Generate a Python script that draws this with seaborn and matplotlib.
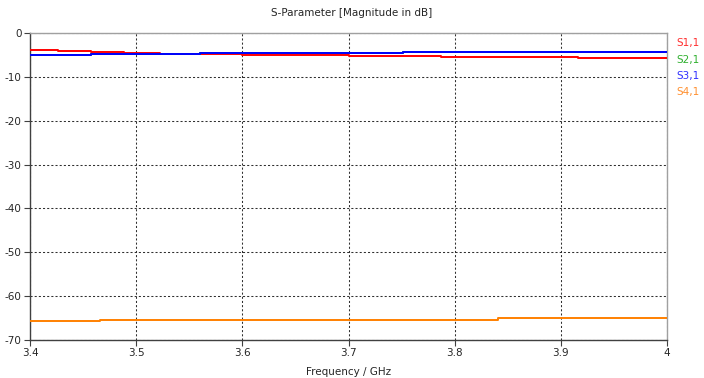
import matplotlib
matplotlib.use("Agg")
import matplotlib.pyplot as plt
import seaborn as sns
import pandas as pd

freq = [3.400, 3.405, 3.426, 3.457, 3.466, 3.489, 3.522, 3.560, 3.600, 3.650, 3.700, 3.751, 3.787, 3.824, 3.841, 3.916, 4.000]
s11 = [-3.9, -3.9, -4.1, -4.25, -4.25, -4.5, -4.7, -4.8, -4.95, -5.05, -5.15, -5.25, -5.5, -5.5, -5.5, -5.6, -5.6]
s21 = [-5.0, -5.0, -4.95, -4.9, -4.9, -4.85, -4.8, -4.65, -4.6, -4.5, -4.45, -4.4, -4.4, -4.25, -4.25, -4.25, -4.25]
s31 = [-5.0, -5.0, -5.0, -4.9, -4.9, -4.85, -4.75, -4.65, -4.6, -4.5, -4.45, -4.4, -4.4, -4.25, -4.25, -4.25, -4.25]
s41 = [-65.6, -65.7, -65.7, -65.7, -65.5, -65.5, -65.5, -65.5, -65.5, -65.5, -65.5, -65.35, -65.35, -65.35, -65.0, -65.0, -65.0]

names = ["S1,1", "S2,1", "S3,1", "S4,1"]
colors = ["#ff0000", "#00a000", "#0000ff", "#ff8000"]
label_colors = ["#ff3030", "#30b030", "#3030ff", "#ff9030"]
xticks = [3.4, 3.5, 3.6, 3.7, 3.8, 3.9, 4.0]
xticklabels = ["3.4", "3.5", "3.6", "3.7", "3.8", "3.9", "4"]
yticks = [0, -10, -20, -30, -40, -50, -60, -70]

df = pd.DataFrame({
    "freq": freq * 4,
    "val": s11 + s21 + s31 + s41,
    "trace": sum([[n] * len(freq) for n in names], []),
})

sns.set_style("white")
plt.rcParams["font.family"] = ["DejaVu Sans"]

fig = plt.figure(figsize=(7.04, 3.78), dpi=100)
ax = fig.add_axes([30 / 704, 38 / 378, 637 / 704, 307 / 378])

for n, c in zip(names, colors):
    sub = df[df["trace"] == n]
    sns.lineplot(data=sub, x="freq", y="val", color=c, linewidth=1.4,
                 drawstyle="steps-post", ax=ax, legend=False, zorder=3)

ax.set_xlim(3.4, 4.0)
ax.set_ylim(-70, 0)
ax.set_xticks(xticks)
ax.set_xticklabels(xticklabels)
ax.set_yticks(yticks)
ax.set_yticklabels([str(v) for v in yticks])
ax.grid(True, color="#303030", linestyle=(0, (2, 2)), linewidth=0.75)
ax.tick_params(axis="both", labelsize=7.5, length=4, width=0.8, color="#404040",
               direction="out", bottom=True, left=True, pad=2)
for s in ["left", "bottom"]:
    ax.spines[s].set_color("#404040")
    ax.spines[s].set_linewidth(1.0)
for s in ["top", "right"]:
    ax.spines[s].set_color("#a0a0a0")
    ax.spines[s].set_linewidth(1.0)

ax.set_xlabel("Frequency / GHz", fontsize=7.5, labelpad=6)
ax.set_ylabel("")
fig.text(0.5, 1 - 13 / 378, "S-Parameter [Magnitude in dB]", ha="center", va="center", fontsize=7.5)

ys = [43, 60, 76, 92]
for n, c, yy in zip(names, label_colors, ys):
    fig.text(676 / 704, 1 - yy / 378, n, color=c, fontsize=7.5, ha="left", va="center")

fig.savefig("out.png", dpi=100)
